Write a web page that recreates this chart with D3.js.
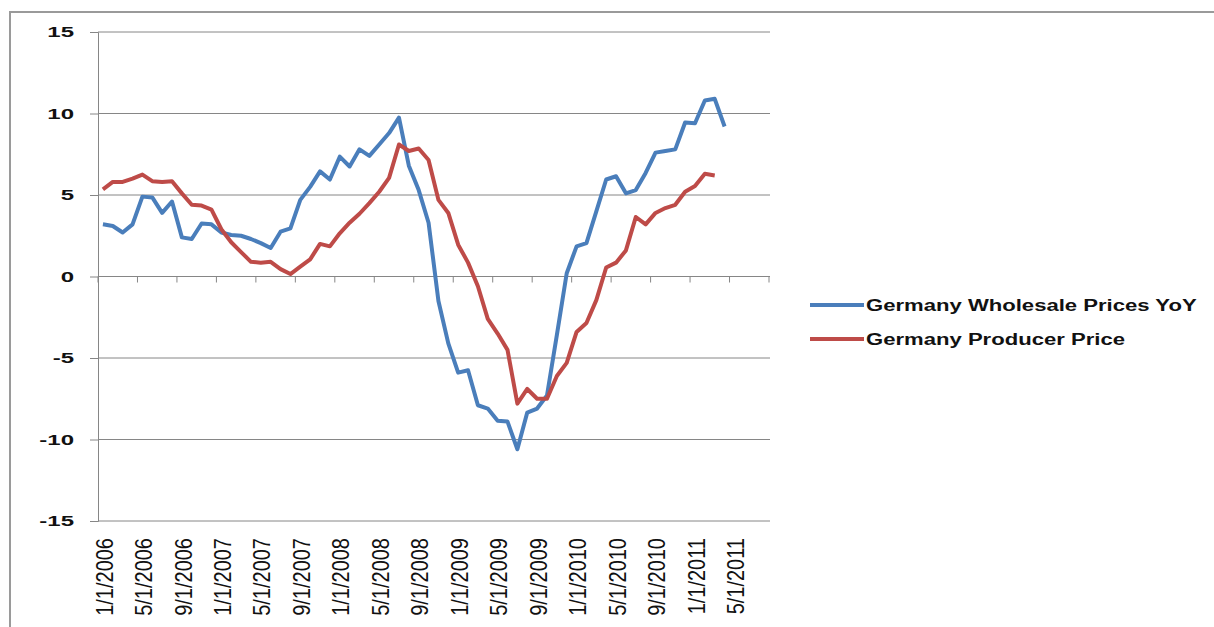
<!DOCTYPE html>
<html>
<head>
<meta charset="utf-8">
<script src="https://cdn.jsdelivr.net/npm/d3@7"></script>
<style>
  body { margin: 0; background: #fff; }
  svg { display: block; }
  .ylab { font-family: "Liberation Sans", Arial, sans-serif; font-weight: bold; font-size: 15px; fill: #111; }
  .xlab { font-family: "Liberation Sans", Arial, sans-serif; font-size: 20px; fill: #111; }
  .leg { font-family: "Liberation Sans", Arial, sans-serif; font-weight: bold; font-size: 17px; fill: #111; }
</style>
</head>
<body>
<div id="chart"></div>
<script>
// months Jan 2006 .. Aug 2011 (Excel category axis)
const categories = d3.timeMonths(new Date(2006, 0, 1), new Date(2011, 8, 1));
const formatDate = d3.timeFormat('%-m/%-d/%Y');

const yTicks = [-15, -10, -5, 0, 5, 10, 15];

// Germany Wholesale Prices YoY, from 1/1/2006
const wholesale = [
  3.2, 3.1, 2.7, 3.2, 4.9, 4.85, 3.9, 4.6, 2.4, 2.3, 3.25, 3.2,
  2.7, 2.55, 2.5, 2.3, 2.05, 1.75, 2.75, 2.95, 4.7, 5.5, 6.45, 5.95,
  7.35, 6.75, 7.8, 7.4, 8.1, 8.8, 9.75, 6.8, 5.3, 3.3, -1.5, -4.1,
  -5.9, -5.75, -7.9, -8.1, -8.85, -8.9, -10.6, -8.35, -8.1, -7.3, -3.6, 0.2,
  1.85, 2.05, 4.0, 5.95, 6.15, 5.1, 5.3, 6.35, 7.6, 7.7, 7.8, 9.45,
  9.4, 10.8, 10.9, 9.2
];

// Germany Producer Price, from 1/1/2006
const producer = [
  5.35, 5.8, 5.8, 6.0, 6.25, 5.85, 5.8, 5.85, 5.1, 4.4, 4.35, 4.1,
  2.9, 2.1, 1.5, 0.9, 0.85, 0.9, 0.45, 0.15, 0.6, 1.05, 2.0, 1.85,
  2.65, 3.3, 3.85, 4.5, 5.2, 6.05, 8.1, 7.7, 7.85, 7.15, 4.7, 3.9,
  1.95, 0.85, -0.6, -2.6, -3.5, -4.5, -7.8, -6.9, -7.5, -7.5, -6.1, -5.3,
  -3.4, -2.85, -1.45, 0.55, 0.85, 1.6, 3.65, 3.2, 3.9, 4.2, 4.4, 5.2,
  5.55, 6.3, 6.2
];

const seriesNames = ['Germany Wholesale Prices YoY', 'Germany Producer Price'];
const seriesColors = ['#4a7ebb', '#be4b48'];

const width = 1214, height = 627;
const plot = { left: 98, right: 769, top: 32, bottom: 521 };

const svg = d3.select('#chart').append('svg')
  .attr('width', width)
  .attr('height', height);

// outer chart border
svg.append('rect')
  .attr('x', 10).attr('y', 12)
  .attr('width', width).attr('height', height)
  .attr('fill', 'none')
  .attr('stroke', '#9a9a9a')
  .attr('stroke-width', 2);

const x = d3.scaleBand()
  .domain(categories)
  .range([plot.left, plot.right])
  .padding(0);

const y = d3.scaleLinear()
  .domain([-15, 15])
  .range([plot.bottom, plot.top]);

const cx = d => x(d) + x.bandwidth() / 2;

// gridlines
svg.append('g')
  .selectAll('line')
  .data(yTicks)
  .join('line')
  .attr('x1', plot.left).attr('x2', plot.right + 1)
  .attr('y1', d => y(d)).attr('y2', d => y(d))
  .attr('stroke', '#868686')
  .attr('stroke-width', 1);

// y axis
const yAxis = svg.append('g')
  .attr('transform', `translate(${plot.left},0)`)
  .call(d3.axisLeft(y).tickValues(yTicks).tickSize(8).tickFormat(''));
yAxis.selectAll('line, path').attr('stroke', '#868686');

svg.append('g')
  .selectAll('text')
  .data(yTicks)
  .join('text')
  .attr('class', 'ylab')
  .attr('transform', d => `translate(74,${y(d)}) scale(1.6,1)`)
  .attr('text-anchor', 'end')
  .attr('dy', '0.36em')
  .text(d => d);

// x axis line at zero with tick marks every 4 months
svg.append('line')
  .attr('x1', plot.left).attr('x2', plot.right + 1)
  .attr('y1', y(0)).attr('y2', y(0))
  .attr('stroke', '#868686');

const tickPos = categories.filter((d, i) => i % 4 === 0).map(d => x(d)).concat([plot.right]);
svg.append('g')
  .selectAll('line')
  .data(tickPos)
  .join('line')
  .attr('x1', d => d).attr('x2', d => d)
  .attr('y1', y(0)).attr('y2', y(0) + 6)
  .attr('stroke', '#868686');

// category labels, low position
const labelled = categories.filter((d, i) => i % 4 === 0);
svg.append('g')
  .selectAll('text')
  .data(labelled)
  .join('text')
  .attr('class', 'xlab')
  .attr('transform', d => `translate(${cx(d) + 1},538) scale(1.2,1) rotate(-90)`)
  .attr('text-anchor', 'end')
  .attr('dy', '0.36em')
  .text(d => formatDate(d));

// lines
const line = d3.line()
  .x((d, i) => cx(categories[i]))
  .y(d => y(d));

[wholesale, producer].forEach((s, k) => {
  svg.append('path')
    .datum(s)
    .attr('fill', 'none')
    .attr('stroke', seriesColors[k])
    .attr('stroke-width', 4)
    .attr('stroke-linejoin', 'round')
    .attr('d', line);
});

// legend
const legend = svg.append('g');
const legY = [305, 339];
seriesNames.forEach((name, k) => {
  legend.append('line')
    .attr('x1', 810).attr('x2', 864)
    .attr('y1', legY[k]).attr('y2', legY[k])
    .attr('stroke', seriesColors[k])
    .attr('stroke-width', 4);
  legend.append('text')
    .attr('class', 'leg')
    .attr('transform', `translate(866,${legY[k]}) scale(1.3,1)`)
    .attr('dy', '0.36em')
    .text(name);
});
</script>
</body>
</html>
